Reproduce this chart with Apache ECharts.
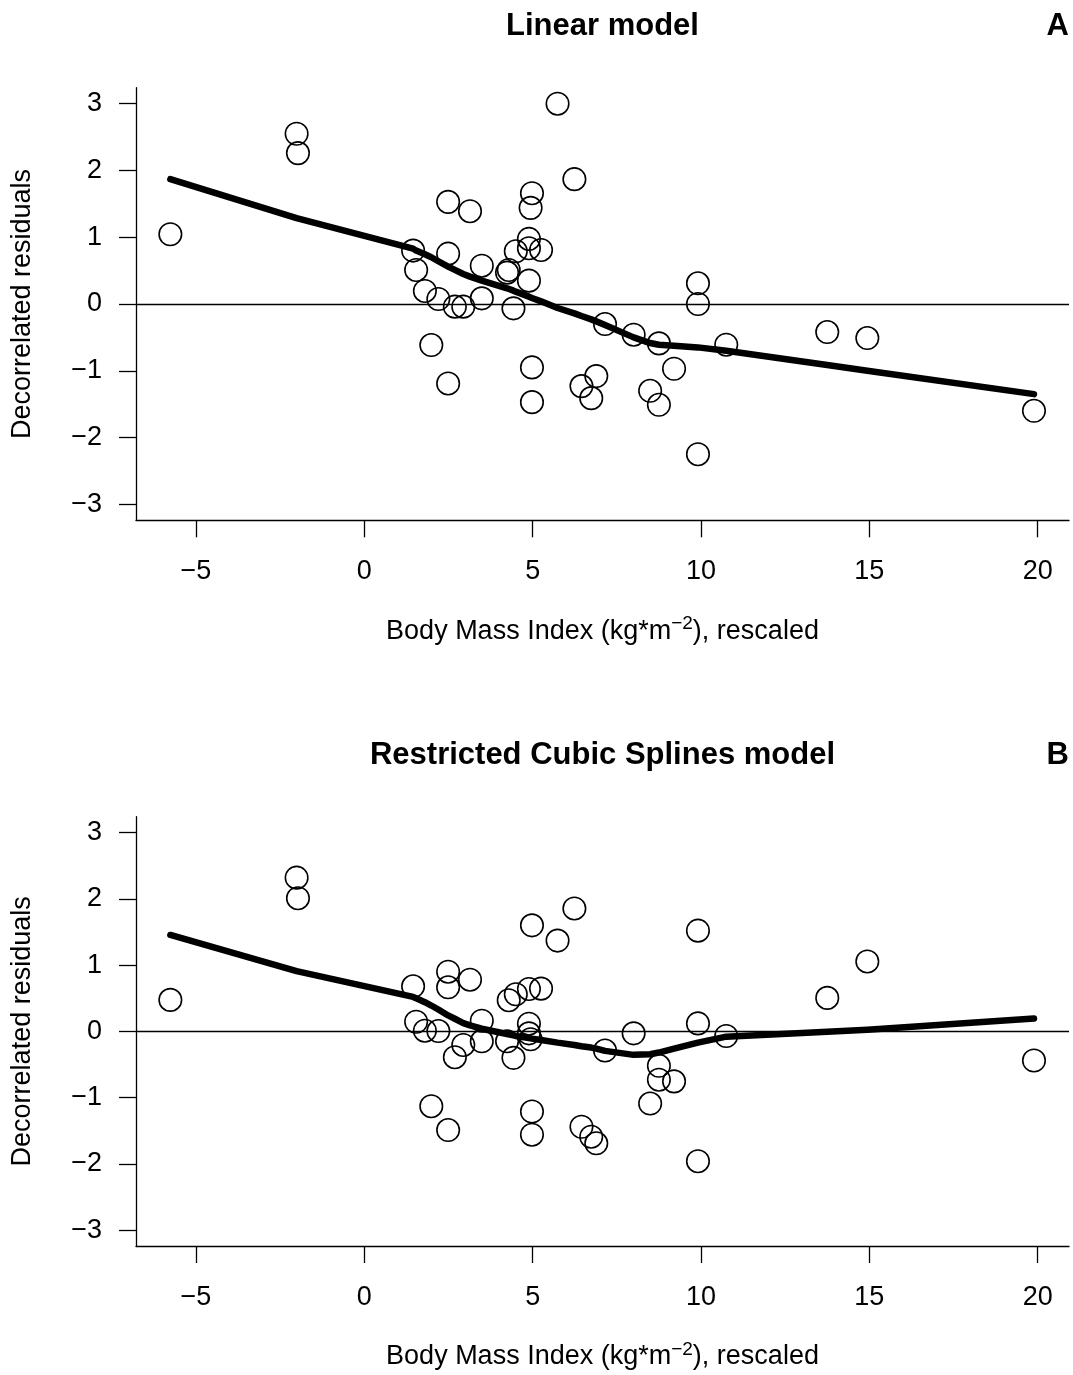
<!DOCTYPE html>
<html>
<head>
<meta charset="utf-8">
<script src="https://cdn.jsdelivr.net/npm/echarts@6/dist/echarts.min.js"></script>
<style>
html,body{margin:0;padding:0;background:#fff;}
#chart{width:1073px;height:1375px;}
</style>
</head>
<body>
<div id="chart"></div>
<script>
// Body Mass Index (rescaled) for each subject
const bmi = [-5.76, -2.01, -1.97, 1.45, 1.54, 1.80, 1.99, 2.20, 2.49, 2.49, 2.49, 2.69, 2.94, 3.14, 3.49, 3.49,
  4.24, 4.29, 4.43, 4.50, 4.89, 4.89, 4.89, 4.94, 4.98, 4.98, 4.98, 5.25, 5.74, 6.24, 6.45, 6.74, 6.89, 7.15,
  8.00, 8.49, 8.75, 8.75, 9.20, 9.91, 9.91, 9.91, 10.75, 13.75, 14.94, 19.89];
// Decorrelated residuals, linear model (panel A)
const residLinear = [1.045, 2.55, 2.26, 0.80, 0.51, 0.195, -0.615, 0.075, 1.53, 0.754, -1.19, -0.04, -0.04, 1.39, 0.574, 0.085,
  0.47, 0.51, -0.065, 0.79, 0.975, 0.835, 0.35, 1.44, 1.66, -0.95, -1.47, 0.81, 3.0, 1.87, -1.23, -1.41, -1.08, -0.30,
  -0.46, -1.30, -0.59, -1.51, -0.97, 0.31, 0.0, -2.25, -0.61, -0.42, -0.51, -1.60];
// Decorrelated residuals, restricted cubic splines model (panel B)
const residSpline = [0.475, 2.32, 2.01, 0.68, 0.145, 0.01, -1.13, 0.005, 0.90, 0.665, -1.49, -0.39, -0.205, 0.78, 0.16, -0.15,
  -0.15, 0.47, -0.40, 0.56, 0.64, 0.115, -0.03, -0.12, 1.60, -1.21, -1.56, 0.645, 1.37, 1.855, -1.44, -1.59, -1.69, -0.29,
  -0.03, -1.09, -0.52, -0.73, -0.755, 1.52, 0.12, -1.96, -0.07, 0.505, 1.055, -0.44];
// Smoother (fitted curve) evaluated at the unique BMI values
const fitX = [-5.76, -2.01, -1.97, 1.45, 1.54, 1.80, 1.99, 2.20, 2.49, 2.69, 2.94, 3.14, 3.49, 4.24, 4.29, 4.43, 4.50,
  4.89, 4.94, 4.98, 5.25, 5.74, 6.24, 6.45, 6.74, 6.89, 7.15, 8.00, 8.49, 8.75, 9.20, 9.91, 10.75, 13.75, 14.94, 19.89];
const fitLinear = [1.87, 1.285, 1.28, 0.83, 0.80, 0.745, 0.70, 0.64, 0.56, 0.51, 0.45, 0.41, 0.35, 0.235, 0.225, 0.20, 0.185,
  0.11, 0.10, 0.09, 0.04, -0.06, -0.14, -0.18, -0.23, -0.26, -0.315, -0.50, -0.585, -0.61, -0.625, -0.65, -0.70, -0.915, -1.0, -1.35];
const fitSpline = [1.455, 0.91, 0.905, 0.52, 0.50, 0.44, 0.39, 0.33, 0.24, 0.19, 0.125, 0.09, 0.04, -0.04, -0.045, -0.06, -0.07,
  -0.10, -0.105, -0.11, -0.13, -0.17, -0.205, -0.225, -0.245, -0.26, -0.295, -0.355, -0.345, -0.32, -0.26, -0.17, -0.08, -0.005, 0.025, 0.195];
// Tick labels
const xTicks = [-5, 0, 5, 10, 15, 20];
const yTicks = [-3, -2, -1, 0, 1, 2, 3];
const panelTitles = ['Linear model', 'Restricted Cubic Splines model'];
const panelLetters = ['A', 'B'];
const xTitle = 'Body Mass Index (kg*m{sup|\u22122}), rescaled';
const yTitle = 'Decorrelated residuals';

const FONT = '"Liberation Sans", Arial, Helvetica, sans-serif';
const fmt = v => (v < 0 ? '\u2212' + Math.abs(v) : String(v));
const axisLineStyle = {color: '#000', width: 1.3};

const panelTop = [87.7, 816.7];
const gridH = 432.6;
const grids = panelTop.map(t => ({left: 136, top: t, width: 933, height: gridH}));

const xAxes = [0, 1].map(i => ({
  gridIndex: i, type: 'value', min: -6.78, max: 20.93,
  axisLine: {show: true, onZero: false, lineStyle: axisLineStyle},
  axisTick: {show: true, length: 17, customValues: xTicks, lineStyle: axisLineStyle},
  axisLabel: {show: true, customValues: xTicks, formatter: fmt, fontSize: 27, fontFamily: FONT, color: '#000', margin: 38},
  splitLine: {show: false},
  name: xTitle, nameLocation: 'middle', nameGap: 94,
  nameTextStyle: {fontSize: 27, fontFamily: FONT, color: '#000', lineHeight: 34,
    rich: {sup: {fontSize: 19, fontFamily: FONT, color: '#000', verticalAlign: 'top', lineHeight: 19}}}
}));
const yAxes = [0, 1].map(i => ({
  gridIndex: i, type: 'value', min: -3.24, max: 3.24,
  axisLine: {show: true, onZero: false, lineStyle: axisLineStyle},
  axisTick: {show: true, length: 17, customValues: yTicks, lineStyle: axisLineStyle},
  axisLabel: {show: true, customValues: yTicks, formatter: fmt, fontSize: 27, fontFamily: FONT, color: '#000', margin: 34},
  splitLine: {show: false},
  name: yTitle, nameLocation: 'middle', nameGap: 100,
  nameTextStyle: {fontSize: 27, fontFamily: FONT, color: '#000'}
}));

const resids = [residLinear, residSpline];
const fits = [fitLinear, fitSpline];
const series = [];
[0, 1].forEach(i => {
  series.push({
    type: 'scatter', xAxisIndex: i, yAxisIndex: i,
    data: bmi.map((x, k) => [x, resids[i][k]]),
    symbol: 'circle', symbolSize: 22.5,
    itemStyle: {color: 'rgba(0,0,0,0)', borderColor: '#000', borderWidth: 1.6, opacity: 1},
    emphasis: {disabled: true},
    markLine: {silent: true, symbol: 'none', label: {show: false},
      lineStyle: {color: '#000', width: 1.3, type: 'solid'}, data: [{yAxis: 0}]}
  });
  series.push({
    type: 'line', xAxisIndex: i, yAxisIndex: i,
    data: fitX.map((x, k) => [x, fits[i][k]]),
    showSymbol: false, symbol: 'none', smooth: false,
    lineStyle: {color: '#000', width: 6.5, cap: 'round', join: 'round'},
    emphasis: {disabled: true}
  });
});

const graphics = [];
[0, 1].forEach(i => {
  const cy = panelTop[i] - 61.3;
  graphics.push({type: 'text', x: 602.5, y: cy,
    style: {text: panelTitles[i], textAlign: 'center', textVerticalAlign: 'middle',
      font: 'bold 31px ' + FONT, fill: '#000'}});
  graphics.push({type: 'text', x: 1069, y: cy,
    style: {text: panelLetters[i], textAlign: 'right', textVerticalAlign: 'middle',
      font: 'bold 31px ' + FONT, fill: '#000'}});
});

const chart = echarts.init(document.getElementById('chart'), null, {renderer: 'canvas'});
chart.setOption({
  animation: false,
  backgroundColor: '#fff',
  grid: grids,
  xAxis: xAxes,
  yAxis: yAxes,
  series: series,
  graphic: graphics
});
</script>
</body>
</html>
